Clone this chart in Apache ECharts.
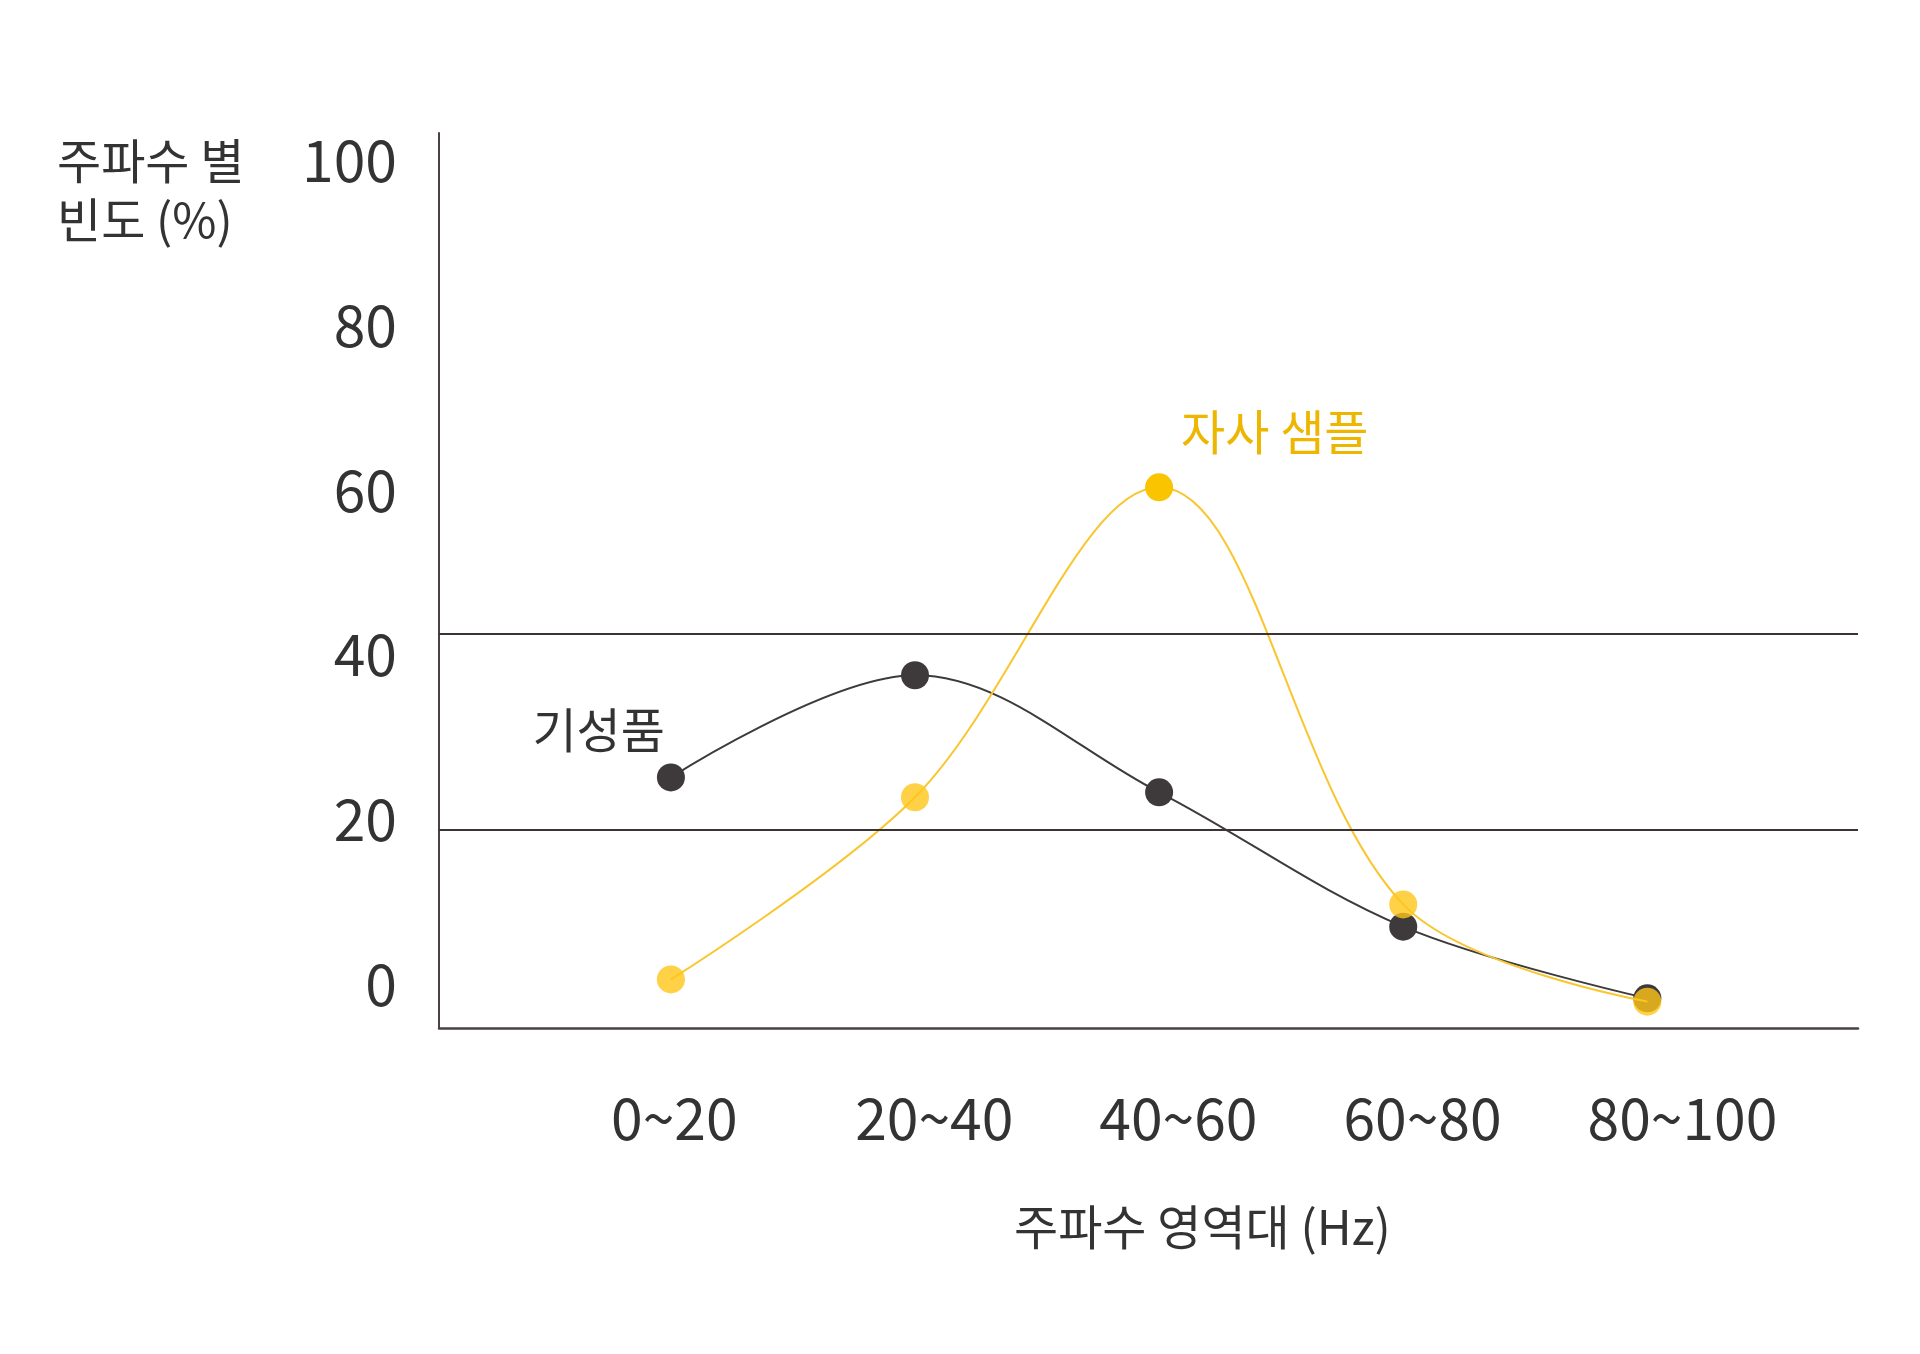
<!DOCTYPE html>
<html>
<head>
<meta charset="utf-8">
<script src="https://cdn.jsdelivr.net/npm/echarts@6/dist/echarts.min.js"></script>
<style>
  html, body { margin: 0; padding: 0; background: #ffffff; }
  #chart { width: 1920px; height: 1354px; }
</style>
</head>
<body>
<div id="chart"></div>
<script>
// 주파수 영역대 (Hz)
const categories = ['0~20', '20~40', '40~60', '60~80', '80~100'];
// 주파수 별 빈도 (%)
const readyMade = [25.1, 37.5, 23.3, 7.0, -1.7];   // 기성품
const ourSample = [0.6, 22.7, 60.3, 9.7, -2.1];    // 자사 샘플
const yTicks = [0, 20, 40, 60, 80, 100];
const guideLines = [42.5, 18.8];

const FONT = '"Noto Sans CJK KR", "Noto Sans", sans-serif';
const DARK = '#3e3a3b';
const YELLOW = '#ffc518';
const labelShift = 0.245; // x labels start a little left of each point

const chart = echarts.init(document.getElementById('chart'));

const peakIdx = ourSample.indexOf(Math.max(...ourSample));

const option = {
  backgroundColor: '#ffffff',
  animation: false,
  title: [
    {
      text: '주파수 별\n빈도 (%)',
      left: 52,
      top: 126,
      textStyle: { fontFamily: FONT, fontSize: 48, fontWeight: 'normal', color: '#333333', lineHeight: 59 }
    },
    {
      text: '주파수 영역대 (Hz)',
      left: 1009,
      top: 1198,
      textStyle: { fontFamily: FONT, fontSize: 48, fontWeight: 'normal', color: '#333333' }
    }
  ],
  grid: { left: 439, right: 62, top: 133, bottom: 326 },
  xAxis: {
    type: 'value',
    min: -0.95,
    max: 4.863,
    axisLine: { onZero: false, lineStyle: { color: '#4a4242', width: 2.5 } },
    axisTick: { show: false },
    splitLine: { show: false },
    axisLabel: {
      customValues: categories.map((c, i) => i - labelShift),
      formatter: v => categories[Math.round(v + labelShift)] || '',
      align: 'left',
      margin: 62,
      fontFamily: FONT,
      fontSize: 57,
      color: '#333333'
    }
  },
  yAxis: {
    type: 'value',
    min: -5.3,
    max: 103.3,
    axisLine: { show: true, onZero: false, lineStyle: { color: '#4a4242', width: 2 } },
    axisTick: { show: false },
    splitLine: { show: false },
    axisLabel: {
      customValues: yTicks,
      margin: 42,
      fontFamily: FONT,
      fontSize: 57,
      color: '#333333'
    }
  },
  series: [
    {
      name: '기성품',
      type: 'line',
      smooth: 0.35,
      symbol: 'circle',
      symbolSize: 28,
      lineStyle: { color: DARK, width: 2 },
      itemStyle: { color: DARK },
      data: readyMade.map((v, i) => {
        const item = { value: [i, v] };
        if (i === 0) {
          item.label = {
            show: true,
            formatter: '기성품',
            position: 'inside',
            align: 'right',
            verticalAlign: 'middle',
            offset: [-6, -48],
            fontFamily: FONT,
            fontSize: 48,
            color: '#333333'
          };
        }
        return item;
      }),
      markLine: {
        silent: true,
        symbol: 'none',
        label: { show: false },
        lineStyle: { color: '#3a3434', width: 2, type: 'solid' },
        data: guideLines.map(v => ({ yAxis: v }))
      },
      z: 2
    },
    {
      name: '자사 샘플',
      type: 'line',
      smooth: 0.35,
      symbol: 'circle',
      symbolSize: 28,
      lineStyle: { color: '#f9c630', width: 2 },
      itemStyle: { color: YELLOW, opacity: 0.8 },
      data: ourSample.map((v, i) => {
        const item = { value: [i, v] };
        if (i === peakIdx) {
          item.itemStyle = { color: '#fac400', opacity: 1 };
          item.label = {
            show: true,
            formatter: '자사 샘플',
            position: 'inside',
            align: 'left',
            verticalAlign: 'middle',
            offset: [22, -56],
            fontFamily: FONT,
            fontSize: 48,
            color: '#edb600'
          };
        }
        return item;
      }),
      z: 3
    }
  ]
};

chart.setOption(option);
</script>
</body>
</html>
